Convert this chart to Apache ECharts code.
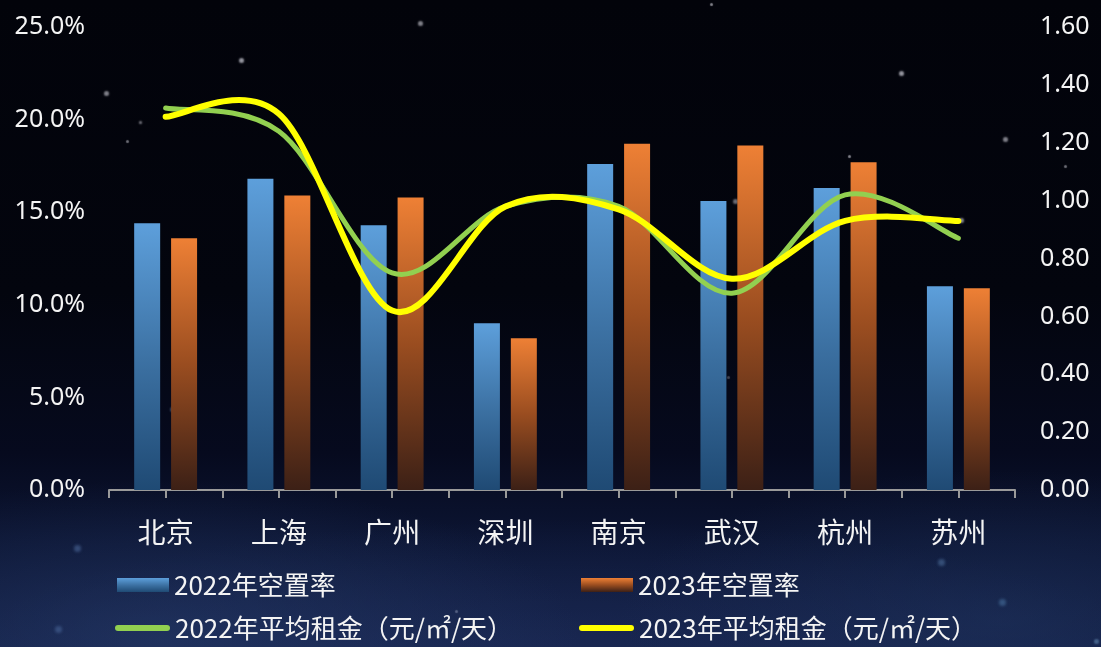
<!DOCTYPE html>
<html>
<head>
<meta charset="utf-8">
<script src="https://cdn.jsdelivr.net/npm/echarts@6/dist/echarts.min.js"></script>
<style>
  html, body { margin: 0; padding: 0; width: 1101px; height: 647px; overflow: hidden; }
  body {
    background:
      radial-gradient(ellipse 420px 160px at 160px 640px, rgba(40, 62, 110, 0.55), rgba(40, 62, 110, 0) 100%),
      radial-gradient(ellipse 380px 150px at 1000px 620px, rgba(34, 56, 100, 0.45), rgba(34, 56, 100, 0) 100%),
      radial-gradient(ellipse 600px 140px at 560px 660px, rgba(30, 46, 92, 0.6), rgba(30, 46, 92, 0) 100%),
      linear-gradient(to bottom, #02030a 0%, #03050e 45%, #060a1e 70%, #0c1533 84%, #131f45 100%);
  }
  #sky { position: absolute; left: 0; top: 0; width: 1101px; height: 647px; }
  #sky::before {
    content: ''; position: absolute; left: 0; top: 0; width: 3px; height: 3px; border-radius: 50%;
    box-shadow:
      240px 59px 2px 1px rgba(220,220,230,0.7),
      105px 92px 2px 1px rgba(220,220,230,0.6),
      139px 121px 2px 0px rgba(220,220,230,0.6),
      126px 140px 1px 0px rgba(220,220,230,0.5),
      419px 22px 2px 1px rgba(220,220,230,0.6),
      710px 3px 1px 0px rgba(220,220,230,0.6),
      900px 72px 2px 1px rgba(220,220,230,0.7),
      1004px 138px 2px 1px rgba(220,220,230,0.6),
      1064px 165px 1px 0px rgba(220,220,230,0.5),
      1081px 190px 1px 0px rgba(220,220,230,0.5),
      960px 219px 2px 1px rgba(220,220,230,0.6),
      848px 155px 1px 0px rgba(220,220,230,0.6),
      734px 200px 2px 1px rgba(220,220,230,0.5),
      155px 297px 1px 0px rgba(220,220,230,0.5),
      727px 376px 1px 0px rgba(220,220,230,0.3),
      171px 408px 2px 1px rgba(160,190,230,0.35),
      76px 547px 3px 2px rgba(120,160,220,0.35),
      940px 561px 3px 2px rgba(120,170,220,0.35),
      1001px 601px 3px 2px rgba(110,170,220,0.35),
      57px 628px 3px 2px rgba(120,160,220,0.3),
      254px 620px 1px 0px rgba(200,210,230,0.4),
      455px 610px 1px 0px rgba(200,210,230,0.35),
      1095px 640px 2px 1px rgba(140,190,230,0.4);
  }
  #chart { position: absolute; left: 0; top: 0; width: 1101px; height: 647px; }
</style>
</head>
<body>
<div id="sky"></div>
<div id="chart"></div>
<script>
// Cities on the category axis
const cities = ['北京', '上海', '广州', '深圳', '南京', '武汉', '杭州', '苏州'];

// Office vacancy rate (%)
const vacancy2022 = [14.4, 16.8, 14.3, 9.0, 17.6, 15.6, 16.3, 11.0];
const vacancy2023 = [13.6, 15.9, 15.8, 8.2, 18.7, 18.6, 17.7, 10.9];

// Average rent (元/㎡/天)
const rent2022 = [1.32, 1.24, 0.75, 0.98, 0.98, 0.68, 1.02, 0.87];
const rent2023 = [1.29, 1.30, 0.62, 0.98, 0.97, 0.73, 0.93, 0.93];

// Axis ranges and steps: [min, max, interval]
const vacancyAxis = [0, 25, 5];
const rentAxis = [0, 1.6, 0.2];

const seriesNames = ['2022年空置率', '2023年空置率', '2022年平均租金（元/㎡/天）', '2023年平均租金（元/㎡/天）'];

const FONT = '"Noto Sans CJK SC", "Noto Sans", sans-serif';
const TEXT = '#f4f4f4';
const AXIS = '#9a9a9a';

const blueFill = new echarts.graphic.LinearGradient(0, 0, 0, 1, [
  { offset: 0, color: '#5d9fdb' },
  { offset: 0.55, color: '#3a6e9f' },
  { offset: 1, color: '#1f4a74' }
]);
const orangeFill = new echarts.graphic.LinearGradient(0, 0, 0, 1, [
  { offset: 0, color: '#ee8035' },
  { offset: 0.5, color: '#9a4d20' },
  { offset: 1, color: '#3c2016' }
]);

const lineIcon = 'path://M3,0 L52,0 A3,3 0 0 1 52,6 L3,6 A3,3 0 0 1 3,0 Z';

function legendAt(name, left, top, isLine) {
  return {
    data: [isLine ? { name: name, icon: lineIcon } : { name: name, icon: 'rect' }],
    left: left,
    top: top,
    padding: 0,
    itemWidth: isLine ? 55 : 52,
    itemHeight: isLine ? 6 : 14,
    itemGap: 0,
    selectedMode: false,
    textStyle: { color: TEXT, fontSize: 26, fontFamily: FONT }
  };
}

// Cubic Bézier path through the pixel points (cardinal spline, 1/6 tangents)
function splinePath(pts) {
  let d = 'M' + pts[0][0] + ',' + pts[0][1];
  for (let i = 0; i < pts.length - 1; i++) {
    const p0 = pts[Math.max(i - 1, 0)];
    const p1 = pts[i];
    const p2 = pts[i + 1];
    const p3 = pts[Math.min(i + 2, pts.length - 1)];
    const c1 = [p1[0] + (p2[0] - p0[0]) / 6, p1[1] + (p2[1] - p0[1]) / 6];
    const c2 = [p2[0] - (p3[0] - p1[0]) / 6, p2[1] - (p3[1] - p1[1]) / 6];
    d += ' C' + c1[0] + ',' + c1[1] + ' ' + c2[0] + ',' + c2[1] + ' ' + p2[0] + ',' + p2[1];
  }
  return d;
}

function smoothLineSeries(name, values, color, width, z) {
  return {
    name: name,
    type: 'custom',
    xAxisIndex: 0,
    yAxisIndex: 1,
    data: values.map((v, i) => [i, v]),
    encode: { x: 0, y: 1 },
    itemStyle: { color: color },
    z: z,
    renderItem: function (params, api) {
      if (params.dataIndex !== 0) return null;
      const pts = values.map((v, i) => api.coord([i, v]));
      return {
        type: 'path',
        shape: { pathData: splinePath(pts) },
        style: { fill: null, stroke: color, lineWidth: width, lineCap: 'round', lineJoin: 'round' }
      };
    }
  };
}

const chart = echarts.init(document.getElementById('chart'), null, { renderer: 'canvas' });

chart.setOption({
  backgroundColor: 'transparent',
  animation: false,
  grid: { left: 109, right: 86, top: 27, bottom: 157, containLabel: false },
  legend: [
    legendAt(seriesNames[0], 117, 572, false),
    legendAt(seriesNames[1], 581, 572, false),
    legendAt(seriesNames[2], 115, 615, true),
    legendAt(seriesNames[3], 579, 615, true)
  ],
  xAxis: [
    {
      type: 'category',
      data: cities,
      position: 'bottom',
      axisLine: { show: true, lineStyle: { color: AXIS, width: 2 } },
      axisTick: { show: true, alignWithLabel: false, length: 8, lineStyle: { color: AXIS, width: 2 } },
      axisLabel: { color: TEXT, fontSize: 28, fontFamily: FONT, margin: 28 },
      splitLine: { show: false }
    },
    {
      type: 'category',
      data: cities,
      position: 'bottom',
      axisLine: { show: false },
      axisTick: { show: true, alignWithLabel: true, length: 8, lineStyle: { color: AXIS, width: 2 } },
      axisLabel: { show: false },
      splitLine: { show: false }
    }
  ],
  yAxis: [
    {
      type: 'value',
      min: vacancyAxis[0], max: vacancyAxis[1], interval: vacancyAxis[2],
      axisLine: { show: false },
      axisTick: { show: false },
      splitLine: { show: false },
      axisLabel: {
        color: TEXT, fontSize: 25, fontFamily: '"Noto Sans", sans-serif', margin: 24,
        formatter: v => v.toFixed(1) + '%'
      }
    },
    {
      type: 'value',
      position: 'right',
      min: rentAxis[0], max: rentAxis[1], interval: rentAxis[2],
      axisLine: { show: false },
      axisTick: { show: false },
      splitLine: { show: false },
      axisLabel: {
        color: TEXT, fontSize: 25, fontFamily: '"Noto Sans", sans-serif', margin: 25,
        formatter: v => v.toFixed(2)
      }
    }
  ],
  series: [
    {
      name: seriesNames[0], type: 'bar', xAxisIndex: 0, yAxisIndex: 0,
      data: vacancy2022, barWidth: 26, barGap: '42%',
      itemStyle: { color: blueFill }
    },
    {
      name: seriesNames[1], type: 'bar', xAxisIndex: 0, yAxisIndex: 0,
      data: vacancy2023, barWidth: 26, barGap: '42%',
      itemStyle: { color: orangeFill }
    },
    smoothLineSeries(seriesNames[2], rent2022, '#92d050', 5, 3),
    smoothLineSeries(seriesNames[3], rent2023, '#ffff00', 6, 4)
  ]
});
</script>
</body>
</html>
